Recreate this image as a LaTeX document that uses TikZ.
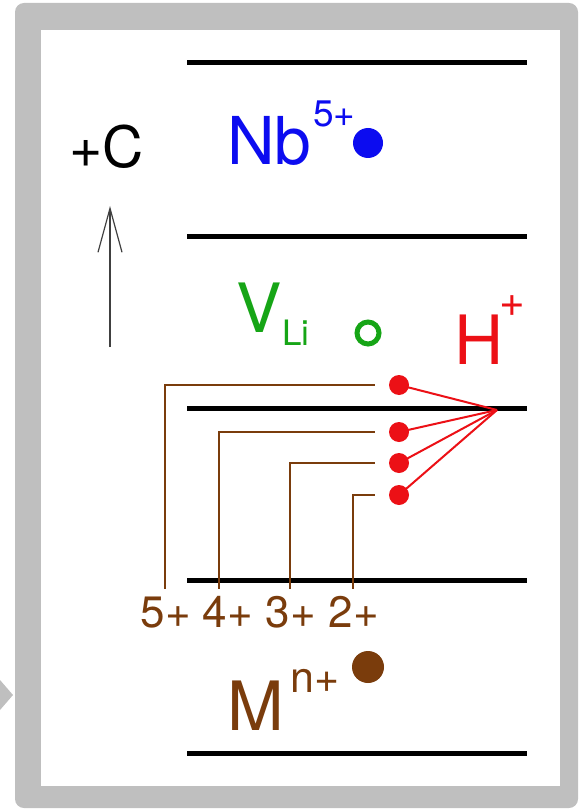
\documentclass[tikz,border=0pt]{standalone}
\usepackage{fontspec}
\setmainfont{TeX Gyre Heros}
\usepackage{tikz}
\usepackage{xcolor}
\usetikzlibrary{arrows.meta}
\definecolor{framegray}{RGB}{191,191,191}
\definecolor{nbblue}{RGB}{12,12,240}
\definecolor{vgreen}{RGB}{22,165,22}
\definecolor{hred}{RGB}{236,16,22}
\definecolor{mbrown}{RGB}{122,60,12}

\begin{document}
\begin{tikzpicture}[x=1pt,y=-1pt,
  every node/.style={inner sep=0pt,anchor=base west},
  big/.style={font=\fontsize{68}{72}\selectfont},
  supfont/.style={font=\fontsize{#1}{#1}\selectfont},
  layer/.style={line width=5pt,black},
  ion/.style={circle,inner sep=0pt,anchor=center,minimum size=#1},
  mline/.style={mbrown,line width=2pt},
  hline/.style={hred,line width=2pt},
  axis/.style={-{Straight Barb[length=44pt,width=24pt]},line width=1.2pt,black!75}]
\useasboundingbox (0,0) rectangle (581,810);
% frame
\fill[framegray,rounded corners=9pt] (15,3) rectangle (578,808);
\fill[white] (41,30) rectangle (560,786);
\fill[framegray] (0,680) -- (13,695) -- (0,710) -- cycle;
% layers
\draw[layer] (187,63) -- (527,63);
\draw[layer] (187,236) -- (527,236);
\draw[layer] (187,408) -- (527,408);
\draw[layer] (187,580) -- (527,580);
\draw[layer] (187,753) -- (527,753);
% c axis
\node[font=\fontsize{57}{60}\selectfont] (cax) at (69,168) {+C};
\coordinate (cbot) at (110,347);
\coordinate (ctop) at (110,206);
\draw[axis] (cbot) -- (ctop);
% Nb
\node[font=\fontsize{66}{70}\selectfont,text=nbblue] (nb) at (227,165) {Nb};
\node[supfont=37,text=nbblue] (nbsup) at (313,127) {5+};
\node[ion=30pt,fill=nbblue] (nbion) at (368,143) {};
% vacancy
\node[big,text=vgreen] (vli) at (236,332) {V};
\node[supfont=35,text=vgreen] (vsub) at (282,345) {Li};
\node[ion=22pt,draw=vgreen,line width=5pt] (vac) at (368,333) {};
% protons
\node[big,text=hred] (hp) at (454,364) {H};
\node[supfont=44,text=hred,anchor=center] (hsup) at (512,306) {+};
\node[ion=20pt,fill=hred] (h5) at (399,385) {};
\node[ion=20pt,fill=hred] (h4) at (399,432) {};
\node[ion=20pt,fill=hred] (h3) at (399,463) {};
\node[ion=20pt,fill=hred] (h2) at (399,495) {};
\coordinate (hub) at (497,410);
\draw[hline] (h5.center) -- (hub);
\draw[hline] (h4.center) -- (hub);
\draw[hline] (h3.center) -- (hub);
\draw[hline] (h2.center) -- (hub);
% dopant valences
\node[supfont=44,text=mbrown,anchor=base] (l5) at (166,627) {5+};
\node[supfont=44,text=mbrown,anchor=base] (l4) at (228,627) {4+};
\node[supfont=44,text=mbrown,anchor=base] (l3) at (291,627) {3+};
\node[supfont=44,text=mbrown,anchor=base] (l2) at (354,627) {2+};
\draw[mline,shorten <=14pt,shorten >=7pt] (h5.west) -| ([xshift=-1pt]l5.north);
\draw[mline,shorten <=14pt,shorten >=7pt] (h4.west) -| ([xshift=-9pt]l4.north);
\draw[mline,shorten <=14pt,shorten >=7pt] (h3.west) -| ([xshift=-1pt]l3.north);
\draw[mline,shorten <=14pt,shorten >=7pt] (h2.west) -| ([xshift=-1pt]l2.north);
% M
\node[big,text=mbrown] (mm) at (227,730) {M};
\node[supfont=43,text=mbrown] (msup) at (290,692) {n+};
\node[ion=32pt,fill=mbrown] (mion) at (368,667) {};
\end{tikzpicture}
\end{document}
